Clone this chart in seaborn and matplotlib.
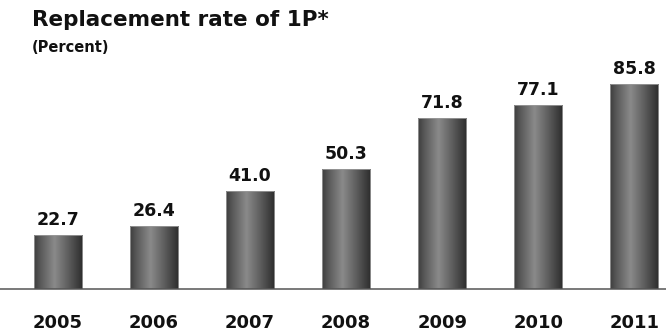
import numpy as np
import pandas as pd
import matplotlib
matplotlib.use("Agg")
import matplotlib.pyplot as plt
import seaborn as sns
from matplotlib.colors import LinearSegmentedColormap

years = ["2005", "2006", "2007", "2008", "2009", "2010", "2011"]
values = [22.7, 26.4, 41.0, 50.3, 71.8, 77.1, 85.8]

sns.set_theme(style="white")
plt.rcParams['font.family'] = ['DejaVu Sans']

df = pd.DataFrame({"year": years, "value": values})

fig = plt.figure(figsize=(6.66, 3.33), dpi=100)
ax = fig.add_axes([0, 44/333, 1, 289/333])
sns.barplot(data=df, x="year", y="value", color="#555555", width=0.5, ax=ax,
            saturation=1, edgecolor="none")

cmap = LinearSegmentedColormap.from_list(
    "cyl", [(0, "#3e3e3e"), (0.15, "#5c5c5c"), (0.42, "#8a8a8a"),
            (0.7, "#5e5e5e"), (1.0, "#2c2c2c")])
grad = np.linspace(0, 1, 256).reshape(1, -1)
for p in ax.patches:
    x0, w, h = p.get_x(), p.get_width(), p.get_height()
    im = ax.imshow(grad, cmap=cmap, aspect="auto", extent=[x0, x0 + w, 0, h],
                   zorder=2)
    im.set_clip_path(p)
    p.set_facecolor("none")
    p.set_edgecolor("#9a9a9a")
    p.set_linewidth(0.6)
    p.set_zorder(3)
    ax.text(x0 + w / 2, h + 2.5, f"{h:.1f}", ha="center", va="bottom",
            fontsize=12.5, fontweight="bold", color="#111111")
ax.set_xlim(-0.604, 6.33)
ax.set_ylim(0, 121)

for s in ["top", "right", "left"]:
    ax.spines[s].set_visible(False)
ax.spines["bottom"].set_color("#555555")
ax.spines["bottom"].set_linewidth(1.1)
ax.spines["bottom"].set_zorder(4)
ax.set_yticks([])
ax.set_xlabel("")
ax.set_ylabel("")
ax.tick_params(axis="x", length=0, pad=18, labelsize=13)
for t in ax.get_xticklabels():
    t.set_fontweight("bold")
    t.set_color("#111111")

fig.text(32/666, 1 - 20/333, "Replacement rate of 1P*", fontsize=15.5,
         fontweight="bold", color="#111111", va="center", ha="left")
fig.text(32/666, 1 - 48/333, "(Percent)", fontsize=10.5,
         fontweight="bold", color="#111111", va="center", ha="left")

fig.savefig("out.png", dpi=100)
